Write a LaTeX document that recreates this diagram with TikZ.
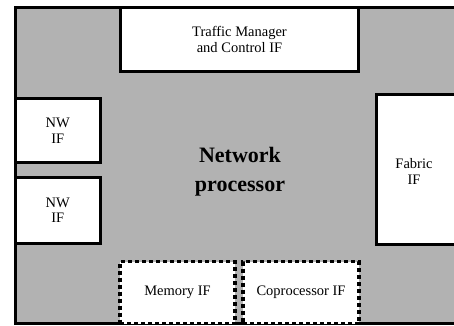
\documentclass[tikz,border=0pt]{standalone}
\usepackage{fontspec}
\setmainfont{Liberation Serif}
\begin{document}
\begin{tikzpicture}[x=1pt, y=-1pt,
  chip/.style={draw=black, line width=3pt, fill=black!30, inner sep=0pt},
  panel/.style={draw=black, line width=3pt, fill=white, inner sep=0pt,
    font=\fontsize{14.5}{15.5}\selectfont, align=center},
  dotbox/.style={draw=black, line width=3.5pt, fill=white, inner sep=0pt,
    dash pattern=on 4pt off 3pt,
    font=\fontsize{14.5}{15.5}\selectfont, align=center},
  lbl/.style={inner sep=0pt, font=\fontsize{14.5}{15.5}\selectfont, align=center},
  title/.style={inner sep=0pt, font=\fontsize{22}{29}\selectfont\bfseries, align=center}]
  \useasboundingbox (0,0) rectangle (454,325);
  \clip (0,0) rectangle (454,325);

  % processor body
  \node[chip, minimum width=465pt, minimum height=316pt] (np) at (247.5,165.5) {};
  \node[title] (nptext) at (240,171.5) {Network\\processor};

  % interface blocks around the edge
  \node[panel, minimum width=238pt, minimum height=64pt] (tm) at (239.5,39.5)
    {Traffic Manager\\and Control IF};
  \node[panel, minimum width=85.5pt, minimum height=64pt] (nw1) at (57.75,130.5) {NW\\IF};
  \node[panel, minimum width=85.5pt, minimum height=66.5pt] (nw2) at (57.75,210.25) {NW\\IF};
  \node[panel, minimum width=103.5pt, minimum height=150.5pt] (fab) at (428.25,169.25) {};
  \node[lbl] (fabtext) at (414,171.5) {Fabric\\IF};

  % optional interfaces
  \node[dotbox, minimum width=115pt, minimum height=62pt] (mem) at (177.5,292.5) {Memory IF};
  \node[dotbox, minimum width=116pt, minimum height=62pt] (cop) at (301,292.5) {Coprocessor IF};
\end{tikzpicture}
\end{document}
